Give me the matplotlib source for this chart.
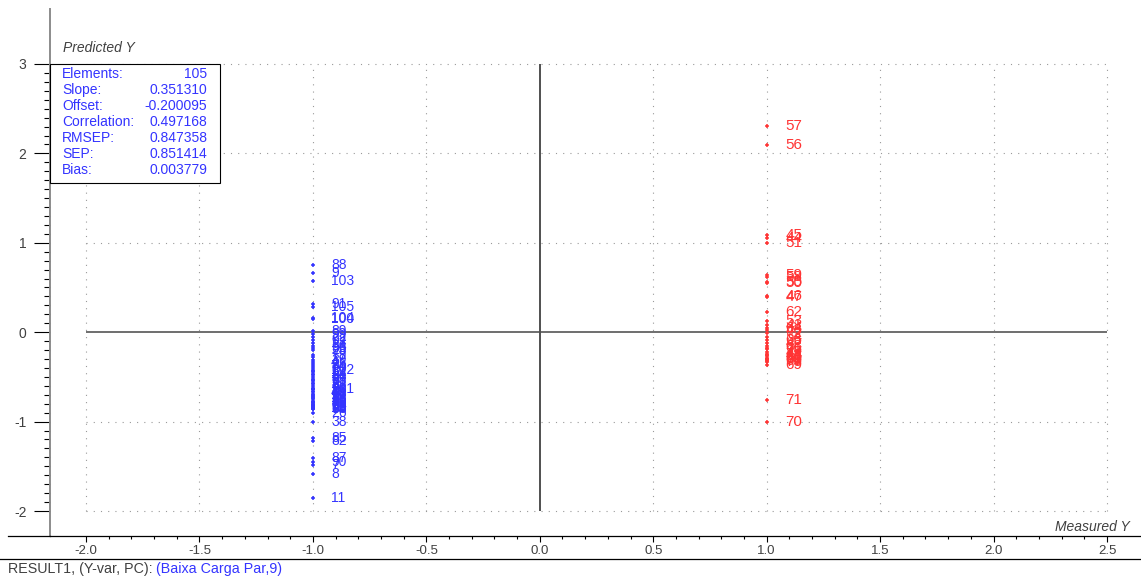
import numpy as np
import matplotlib.pyplot as plt
from matplotlib.ticker import FixedLocator, FormatStrFormatter
from matplotlib.lines import Line2D
from matplotlib.patches import Rectangle

plt.rcParams['font.family'] = ['Liberation Sans', 'DejaVu Sans']
plt.rcParams['axes.unicode_minus'] = False

# predicted vs measured Y, two classes coded -1 / +1
blue_meas = -1.0
blue_ids = [1, 2, 3, 4, 5, 6, 7, 8, 9, 10, 11, 12, 13, 14, 15, 16, 17, 18, 19, 20,
            21, 22, 23, 24, 25, 26, 27, 28, 29, 30, 31, 32, 33, 34, 35, 36, 37, 38, 39, 40,
            77, 78, 79, 80, 81, 82, 83, 84, 85, 86, 87, 88, 89, 90, 91, 92, 93, 94, 95, 96,
            97, 98, 99, 100, 101, 102, 103, 104, 105]
blue_pred = [-0.45, -0.62, -0.78, -0.33, -0.81, -0.55, -1.48, -1.59, 0.66, -0.70,
             -1.85, -0.85, -0.12, -0.47, -0.66, -0.85, -0.28, -0.74, -0.58, -0.40,
             -0.78, -0.05, -0.63, -0.81, -0.36, -0.90, -0.52, -0.69, -0.20, -0.77,
             -0.43, -0.82, -0.60, -0.15, -0.84, -0.50, -0.72, -1.01, -0.31, -0.67,
             -0.57, -0.79, -0.25, -0.80, -0.48, -1.22, -0.86, -0.38, -1.18, -0.75,
             -1.41, 0.75, 0.01, -1.45, 0.31, -0.09, -0.64, -0.86, -0.54, -0.18,
             -0.71, -0.83, -0.02, 0.15, -0.63, -0.42, 0.57, 0.16, 0.28]

red_meas = 1.0
red_ids = list(range(41, 77))
red_pred = [0.08, -0.12, -0.25, 1.05, 1.09, 0.40, 0.39, 0.02, -0.22, 0.55,
            1.00, -0.29, 0.12, -0.05, 0.56, 2.09, 2.31, 0.62, 0.64, -0.30,
            -0.18, 0.23, -0.30, 0.05, -0.27, -0.09, -0.32, -0.15, -0.37, -1.01,
            -0.76, -0.01, -0.33, -0.24, -0.19, -0.31]

stat_names = ['Elements:', 'Slope:', 'Offset:', 'Correlation:', 'RMSEP:', 'SEP:', 'Bias:']
stat_values = ['105', '0.351310', '-0.200095', '0.497168', '0.847358', '0.851414', '0.003779']

BLUE = '#3434ff'
RED = '#ff3434'
DARK = '#404040'

W, H = 1141, 578


def fx(px):
    return px / W


def fy(py):
    return 1 - py / H


fig = plt.figure(figsize=(W / 100, H / 100), dpi=100)
ax = fig.add_axes([fx(50), fy(536), fx(1141) - fx(50), fy(9) - fy(536)])
ax.set_xlim(-2.1587, 2.6498)
ax.set_ylim(-2.2796, 3.615)

for s in ['top', 'right']:
    ax.spines[s].set_visible(False)
ax.spines['left'].set_color('#8c8c8c')
ax.spines['left'].set_linewidth(1.4)
ax.spines['bottom'].set_color('black')
ax.spines['bottom'].set_linewidth(0.9)

ax.xaxis.set_major_locator(FixedLocator(np.arange(-2.0, 2.51, 0.5)))
ax.xaxis.set_minor_locator(FixedLocator(np.arange(-2.0, 2.51, 0.1)))
ax.yaxis.set_major_locator(FixedLocator(np.arange(-2, 4, 1)))
ax.yaxis.set_minor_locator(FixedLocator(np.arange(-2.0, 3.01, 0.1)))
ax.xaxis.set_major_formatter(FormatStrFormatter('%.1f'))
ax.yaxis.set_major_formatter(FormatStrFormatter('%d'))
ax.tick_params(axis='x', which='major', length=4.3, width=0.8, pad=2.5,
               labelsize=9.5, labelcolor=DARK)
ax.tick_params(axis='x', which='minor', length=2.4, width=0.8)
ax.tick_params(axis='y', which='major', length=11.5, width=0.8, pad=5.5,
               labelsize=10, labelcolor=DARK)
ax.tick_params(axis='y', which='minor', length=4.3, width=0.8)

# dotted grid
ax.hlines([-2, -1, 1, 2, 3], -2.0, 2.5, colors='#9a9a9a', linewidth=0.8,
          linestyles=(0, (1, 5.5)), zorder=1)
ax.vlines([-2.0, -1.5, -1.0, -0.5, 0.5, 1.0, 1.5, 2.0, 2.5], -2, 3, colors='#9a9a9a',
          linewidth=0.8, linestyles=(0, (1, 5.5)), zorder=1)
# zero lines
ax.hlines(0, -2.0, 2.5, colors='#6e6e6e', linewidth=1.4, zorder=2)
ax.vlines(0, -2, 3, colors='#505050', linewidth=1.4, zorder=2)

ax.plot([blue_meas] * len(blue_pred), blue_pred, '+', ms=3.5, mew=1.1, color=BLUE, zorder=3)
ax.plot([red_meas] * len(red_pred), red_pred, '+', ms=3.5, mew=1.1, color=RED, zorder=3)
for i, v in zip(blue_ids, blue_pred):
    ax.annotate(str(i), (blue_meas, v), xytext=(13, 0), textcoords='offset points',
                ha='left', va='center', color=BLUE, fontsize=10, zorder=4)
for i, v in zip(red_ids, red_pred):
    ax.annotate(str(i), (red_meas, v), xytext=(13.5, 0), textcoords='offset points',
                ha='left', va='center', color=RED, fontsize=11, zorder=4)

# statistics box
box = Rectangle((fx(50), fy(183)), fx(220) - fx(50), fy(64) - fy(183),
                transform=fig.transFigure, facecolor='white', edgecolor='black',
                linewidth=0.8, zorder=5)
fig.add_artist(box)
for k, (name, val) in enumerate(zip(stat_names, stat_values)):
    yy = fy(74 + 16 * k)
    fig.text(fx(62), yy, name, ha='left', va='center', color=BLUE, fontsize=10, zorder=6)
    fig.text(fx(207), yy, val, ha='right', va='center', color=BLUE, fontsize=10, zorder=6)

fig.text(fx(63), fy(48), 'Predicted Y', style='italic', ha='left', va='center',
         color=DARK, fontsize=10)
fig.text(fx(1130), fy(527), 'Measured Y', style='italic', ha='right', va='center',
         color=DARK, fontsize=10)

# frame lines outside the axes
fig.add_artist(Line2D([fx(8), fx(50)], [fy(536), fy(536)], color='black', linewidth=0.9))
fig.add_artist(Line2D([0, 1], [fy(559), fy(559)], color='black', linewidth=0.9))

fig.text(fx(8), fy(569), 'RESULT1, (Y-var, PC):', ha='left', va='center',
         color=DARK, fontsize=10.3)
fig.text(fx(156), fy(569), '(Baixa Carga Par,9)', ha='left', va='center',
         color=BLUE, fontsize=10.3)

fig.savefig('out.png', dpi=100)
